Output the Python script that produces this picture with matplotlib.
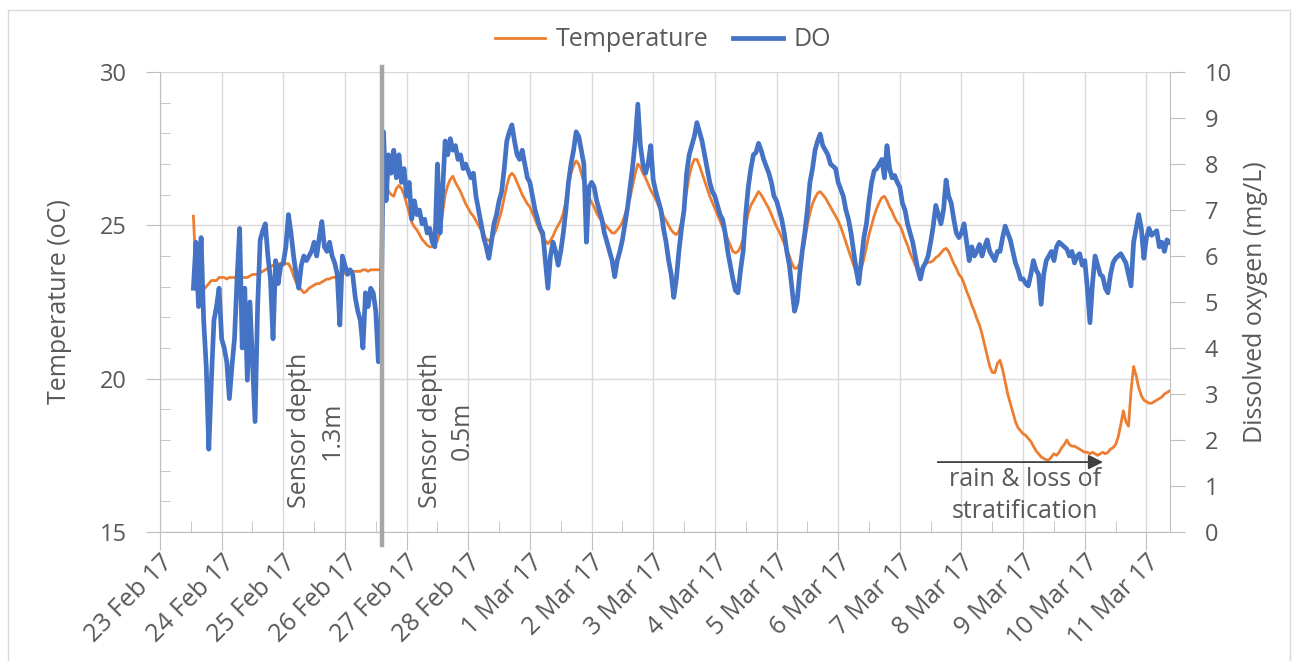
import matplotlib
matplotlib.use('Agg')
import matplotlib.pyplot as plt
import matplotlib.dates as mdates
from matplotlib.ticker import MultipleLocator, FuncFormatter
from matplotlib.patches import Rectangle
import pandas as pd

plt.rcParams['font.family'] = ['Open Sans', 'DejaVu Sans']

# hourly logger readings, first reading 23 Feb 2017 13:00
# (sensor lifted from 1.3 m to 0.5 m on 26 Feb in the afternoon)
start = '2017-02-23 13:00'

temperature = [
    25.3, 23.5, 23.0, 22.9, 22.9, 23.0, 23.1, 23.2, 23.2, 23.2, 23.3,
    23.3, 23.3, 23.25, 23.3, 23.3, 23.3, 23.3, 23.35, 23.3, 23.3, 23.3, 23.35,
    23.4, 23.4, 23.4, 23.45, 23.5, 23.55, 23.6, 23.65, 23.7, 23.7, 23.75, 23.75,
    23.7, 23.75, 23.75, 23.6, 23.35, 23.15, 23.0, 22.9, 22.8, 22.85, 22.95, 23.0,
    23.05, 23.1, 23.1, 23.15, 23.2, 23.25, 23.25, 23.3, 23.3, 23.35, 23.4, 23.4,
    23.45, 23.45, 23.5, 23.5, 23.5, 23.5, 23.5, 23.55, 23.55, 23.5, 23.55, 23.55,
    23.55, 23.55, 23.55, 26.5, 26.4, 26.1, 26.0, 25.95, 26.2, 26.3, 26.2, 26.0,
    25.7, 25.4, 25.1, 24.95, 24.85, 24.7, 24.55, 24.45, 24.35, 24.3, 24.3, 24.35,
    24.5, 24.8, 25.4, 26.0, 26.3, 26.5, 26.6, 26.4, 26.25, 26.1, 25.9, 25.7,
    25.55, 25.4, 25.3, 25.15, 25.0, 24.85, 24.7, 24.55, 24.5, 24.55, 24.7, 24.9,
    25.2, 25.5, 25.9, 26.3, 26.6, 26.7, 26.6, 26.4, 26.2, 26.0, 25.85, 25.7,
    25.6, 25.4, 25.2, 25.0, 24.8, 24.6, 24.5, 24.4, 24.5, 24.65, 24.85, 25.0,
    25.15, 25.4, 25.8, 26.3, 26.7, 26.95, 27.1, 27.0, 26.7, 26.4, 26.1, 25.9,
    25.75, 25.6, 25.4, 25.25, 25.15, 25.05, 24.95, 24.85, 24.75, 24.75, 24.85, 24.95,
    25.1, 25.35, 25.6, 25.9, 26.3, 26.7, 27.0, 26.9, 26.7, 26.55, 26.35, 26.15,
    26.0, 25.85, 25.65, 25.5, 25.3, 25.15, 25.0, 24.85, 24.75, 24.7, 24.8, 25.1,
    25.6, 26.1, 26.6, 26.95, 27.15, 27.15, 26.95, 26.7, 26.45, 26.2, 25.95, 25.75,
    25.55, 25.35, 25.15, 24.95, 24.75, 24.55, 24.35, 24.15, 24.1, 24.15, 24.3, 24.55,
    25.0, 25.4, 25.65, 25.8, 25.95, 26.1, 26.0, 25.85, 25.7, 25.55, 25.35, 25.15,
    24.95, 24.8, 24.6, 24.4, 24.2, 24.0, 23.75, 23.6, 23.6, 23.75, 24.1, 24.5,
    25.0, 25.4, 25.7, 25.9, 26.05, 26.1, 26.0, 25.9, 25.75, 25.6, 25.45, 25.3,
    25.15, 24.95, 24.7, 24.45, 24.2, 23.95, 23.7, 23.5, 23.45, 23.6, 23.9, 24.3,
    24.7, 25.0, 25.3, 25.55, 25.75, 25.9, 25.95, 25.8, 25.6, 25.45, 25.25, 25.1,
    25.0, 24.8, 24.55, 24.35, 24.1, 23.9, 23.7, 23.55, 23.55, 23.6, 23.75, 23.8,
    23.8, 23.85, 23.95, 24.0, 24.1, 24.2, 24.25, 24.15, 23.95, 23.75, 23.6, 23.4,
    23.3, 23.1, 22.85, 22.65, 22.4, 22.2, 21.95, 21.75, 21.45, 21.1, 20.75, 20.4,
    20.2, 20.2, 20.5, 20.6, 20.3, 19.9, 19.5, 19.2, 18.9, 18.6, 18.4, 18.3,
    18.2, 18.15, 18.05, 17.95, 17.8, 17.65, 17.55, 17.45, 17.4, 17.35, 17.35, 17.45,
    17.55, 17.5, 17.6, 17.75, 17.85, 18.0, 17.85, 17.8, 17.8, 17.75, 17.7, 17.65,
    17.6, 17.6, 17.55, 17.6, 17.55, 17.5, 17.55, 17.6, 17.55, 17.6, 17.7, 17.75,
    17.85, 18.1, 18.5, 18.95, 18.6, 18.45, 19.6, 20.4, 20.1, 19.7, 19.45, 19.3,
    19.25, 19.2, 19.2, 19.25, 19.3, 19.35, 19.4, 19.5, 19.55, 19.6,
]

do_mgl = [
    5.3, 6.3, 4.9, 6.4, 4.6, 3.6, 1.8, 3.3, 4.6, 4.9, 5.3,
    4.2, 4.0, 3.7, 2.9, 3.6, 4.2, 5.5, 6.6, 4.0, 5.3, 3.3, 5.0,
    3.7, 2.4, 4.9, 6.35, 6.55, 6.7, 6.0, 5.5, 4.2, 5.9, 5.4, 5.8,
    5.85, 6.2, 6.9, 6.5, 6.0, 5.6, 5.3, 5.8, 6.0, 5.9, 6.0, 6.1,
    6.3, 6.0, 6.4, 6.75, 6.2, 6.1, 6.3, 6.0, 5.85, 5.6, 4.5, 6.0,
    5.8, 5.6, 5.7, 5.6, 5.1, 4.8, 4.6, 4.0, 5.2, 4.9, 5.3, 5.2,
    4.8, 3.7, 4.3, 8.7, 7.2, 8.2, 7.8, 8.3, 7.7, 8.2, 7.6, 7.9,
    7.3, 7.6, 6.8, 7.2, 6.9, 7.0, 6.7, 6.8, 6.5, 6.6, 6.3, 6.2,
    8.0, 6.5, 7.4, 8.5, 8.2, 8.55, 8.3, 8.4, 8.1, 8.2, 7.9, 8.0,
    7.85, 7.7, 7.8, 7.3, 7.0, 6.7, 6.4, 6.2, 5.95, 6.3, 6.7, 6.9,
    7.2, 7.4, 7.9, 8.5, 8.7, 8.85, 8.5, 8.2, 8.1, 8.3, 8.0, 7.7,
    7.6, 7.3, 7.0, 6.8, 6.6, 6.5, 5.9, 5.3, 6.0, 6.3, 6.1, 5.8,
    6.1, 6.5, 7.0, 7.6, 8.0, 8.3, 8.7, 8.6, 8.3, 8.0, 6.3, 7.5,
    7.6, 7.5, 7.2, 7.0, 6.8, 6.5, 6.3, 6.1, 5.9, 5.55, 5.9, 6.1,
    6.35, 6.7, 7.05, 7.5, 7.95, 8.5, 9.3, 8.4, 8.0, 7.8, 8.0, 8.4,
    7.65, 7.4, 7.2, 7.0, 6.6, 6.3, 5.9, 5.6, 5.1, 5.5, 6.1, 6.6,
    7.0, 7.8, 8.2, 8.4, 8.6, 8.9, 8.7, 8.5, 8.2, 7.9, 7.6, 7.4,
    7.3, 7.1, 6.9, 6.8, 6.5, 6.1, 5.8, 5.5, 5.25, 5.2, 5.7, 6.1,
    6.9, 7.5, 7.9, 8.2, 8.25, 8.45, 8.3, 8.1, 7.95, 7.8, 7.6, 7.3,
    7.2, 7.0, 6.8, 6.5, 6.1, 5.8, 5.3, 4.8, 5.0, 5.6, 6.1, 6.5,
    7.0, 7.6, 7.9, 8.3, 8.5, 8.65, 8.4, 8.3, 8.2, 8.0, 7.95, 7.9,
    7.6, 7.45, 7.3, 7.0, 6.8, 6.5, 6.1, 5.7, 5.4, 5.9, 6.4, 6.7,
    7.2, 7.6, 7.85, 7.9, 8.0, 8.1, 7.7, 8.4, 7.9, 7.7, 7.75, 7.6,
    7.5, 7.15, 7.0, 6.7, 6.5, 6.3, 6.0, 5.7, 5.5, 5.75, 5.85, 6.0,
    6.3, 6.65, 7.1, 6.9, 6.7, 7.0, 7.65, 7.3, 7.15, 6.8, 6.5, 6.4,
    6.5, 6.7, 6.3, 5.9, 6.2, 6.0, 6.1, 6.25, 6.0, 6.2, 6.35, 6.1,
    6.0, 5.9, 6.1, 6.1, 6.4, 6.65, 6.5, 6.35, 6.1, 5.85, 5.7, 5.5,
    5.5, 5.4, 5.35, 5.6, 5.9, 5.7, 5.6, 4.95, 5.6, 5.9, 6.0, 6.1,
    5.9, 6.2, 6.3, 6.25, 6.2, 6.15, 6.0, 6.1, 5.85, 6.0, 6.05, 5.8,
    5.9, 5.3, 4.55, 5.4, 6.0, 5.8, 5.6, 5.55, 5.3, 5.2, 5.6, 5.85,
    5.95, 6.0, 6.05, 5.95, 5.85, 5.6, 5.35, 6.3, 6.6, 6.9, 6.6, 5.95,
    6.4, 6.6, 6.45, 6.5, 6.55, 6.2, 6.3, 6.1, 6.35, 6.3,
]

times = pd.date_range(start, periods=len(temperature), freq='h')
sensor_moved = pd.Timestamp('2017-02-26 14:25')

grey_text = '#595959'
grid_col = '#d9d9d9'
axis_col = '#bfbfbf'
fs = 18

fig = plt.figure(figsize=(12.92, 6.61), dpi=100)
ax = fig.add_axes([160 / 1292, 1 - 532 / 661, 1010 / 1292, 460 / 661])
ax2 = ax.twinx()

l1, = ax.plot(times, temperature, color='#ED7D31', lw=2.0, label='Temperature')
l2, = ax2.plot(times, do_mgl, color='#4472C4', lw=3.4, label='DO')

# axes ranges and ticks
ax.set_xlim(pd.Timestamp('2017-02-23'), pd.Timestamp('2017-03-11 09:10'))
ax.set_ylim(15, 30)
ax2.set_ylim(0, 10)

ax.xaxis.set_major_locator(mdates.DayLocator())
ax.xaxis.set_minor_locator(mdates.HourLocator(byhour=12))
ax.xaxis.set_major_formatter(
    FuncFormatter(lambda v, p: f"{mdates.num2date(v).day} {mdates.num2date(v):%b %y}"))
ax.yaxis.set_major_locator(MultipleLocator(5))
ax.yaxis.set_minor_locator(MultipleLocator(1))
ax2.yaxis.set_major_locator(MultipleLocator(1))

ax.grid(axis='both', which='major', color=grid_col, lw=1)
ax.set_axisbelow(True)

for a in (ax, ax2):
    for s in a.spines.values():
        s.set_color(axis_col)
    a.spines['top'].set_visible(False)
ax.spines['right'].set_visible(False)
ax2.spines['left'].set_visible(False)
ax2.spines['bottom'].set_visible(False)

ax.tick_params(axis='x', which='major', direction='out', length=13, color=axis_col,
               labelsize=fs, labelcolor=grey_text, pad=0)
ax.tick_params(axis='x', which='minor', direction='in', length=8, color=axis_col)
ax.tick_params(axis='y', which='major', direction='out', length=10, color=axis_col,
               labelsize=fs - 1, labelcolor=grey_text, pad=14)
ax.tick_params(axis='y', which='minor', direction='in', length=7, color=axis_col)
ax2.tick_params(axis='y', which='major', direction='out', length=11, color=axis_col,
                labelsize=fs - 1, labelcolor=grey_text, pad=14)
plt.setp(ax.get_xticklabels(), rotation=45, ha='right', rotation_mode='anchor')

ax.set_ylabel('Temperature (oC)', fontsize=fs, color=grey_text)
ax2.set_ylabel('Dissolved oxygen (mg/L)', fontsize=fs, color=grey_text)
ax.yaxis.set_label_coords(-0.087, 0.5)
ax2.yaxis.set_label_coords(1.072, 0.5)

# sensor relocation marker
ax2.axvline(sensor_moved, ymin=-0.028, ymax=1.011, color='#a6a6a6', lw=3.2,
            clip_on=False, zorder=5)

ax.text(pd.Timestamp('2017-02-25 12:45'), 18.3, 'Sensor depth\n1.3m', rotation=90,
        ha='center', va='center', multialignment='center', fontsize=fs,
        color=grey_text, linespacing=1.4)
ax.text(pd.Timestamp('2017-02-27 15:30'), 18.3, 'Sensor depth\n0.5m', rotation=90,
        ha='center', va='center', multialignment='center', fontsize=fs,
        color=grey_text, linespacing=1.4)

ax.annotate('', xy=(pd.Timestamp('2017-03-10 08:10'), 17.28),
            xytext=(pd.Timestamp('2017-03-07 13:40'), 17.28),
            arrowprops=dict(arrowstyle='-|>', color='#404040', lw=1.3,
                            mutation_scale=22), zorder=6)
ax.text(pd.Timestamp('2017-03-09 00:45'), 16.2, 'rain & loss of\nstratification',
        ha='center', va='center', fontsize=fs, color=grey_text, linespacing=1.35)

fig.legend(handles=[l1, l2], loc='center', bbox_to_anchor=(663 / 1292, 1 - 40 / 661),
           ncol=2, frameon=False, fontsize=fs, handlelength=2.0, handletextpad=0.4,
           columnspacing=1.0, labelcolor=grey_text)

fig.add_artist(Rectangle((8 / 1292, -0.01), 1282 / 1292, 651 / 661 + 0.01,
                         transform=fig.transFigure, fill=False, ec=grid_col, lw=1))

fig.savefig('out.png', dpi=100)
